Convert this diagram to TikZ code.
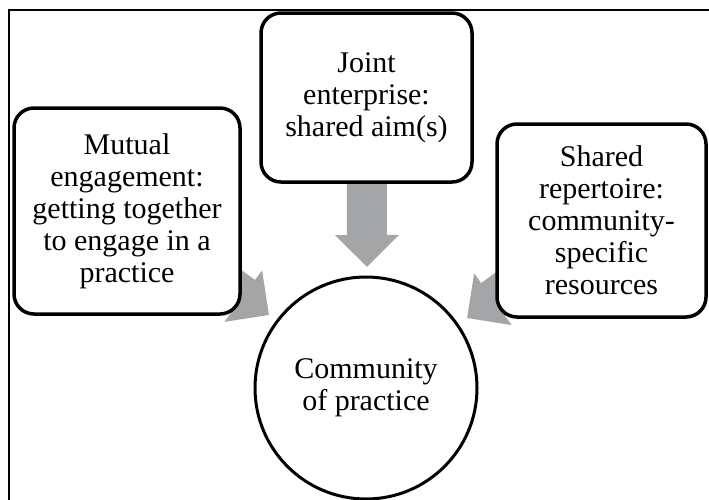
\documentclass[tikz,border=0pt]{standalone}
\usepackage{fontspec}
\setmainfont{Liberation Serif}
\usetikzlibrary{arrows.meta,backgrounds}
\definecolor{arrgray}{RGB}{163,165,166}
\begin{document}
\begin{tikzpicture}[x=1pt,y=-1pt,
  txt/.style={align=center, inner sep=0pt, font=\fontsize{30}{32}\selectfont},
  box/.style={txt, draw=black, line width=3.5pt, rounded corners=20pt, fill=white},
  circ/.style={txt, circle, draw=black, line width=3pt, fill=white, minimum size=222pt},
  blockarr/.style={draw=arrgray, line width=40pt, -{Triangle[width=62pt,length=32pt]}}
]
\useasboundingbox (0,0) rectangle (709,499);
\clip (0,0) rectangle (709,499);

\node[box, minimum width=211pt, minimum height=169pt] (joint) at (366.5,97.5)
  {Joint\\enterprise:\\shared aim(s)};
\node[box, minimum width=226pt, minimum height=206pt] (mutual) at (127,211)
  {Mutual\\engagement:\\getting together\\to engage in a\\practice};
\node[box, minimum width=209pt, minimum height=193pt] (shared) at (601.5,220.5)
  {Shared\\repertoire:\\community-\\specific\\resources};
\node[circ] (cop) at (366,388) {Community\\of practice};

\coordinate (tipT) at (367,267);
\coordinate (tipL) at (269,315);
\coordinate (tipR) at (467,318);

\begin{scope}[on background layer]
  \draw[line width=1.2pt] (9,10) rectangle (720,510);
  \draw[blockarr] (joint.center) -- (tipT);
  \draw[blockarr] (mutual.center) -- (tipL);
  \draw[blockarr] (shared.center) -- (tipR);
\end{scope}
\end{tikzpicture}
\end{document}
